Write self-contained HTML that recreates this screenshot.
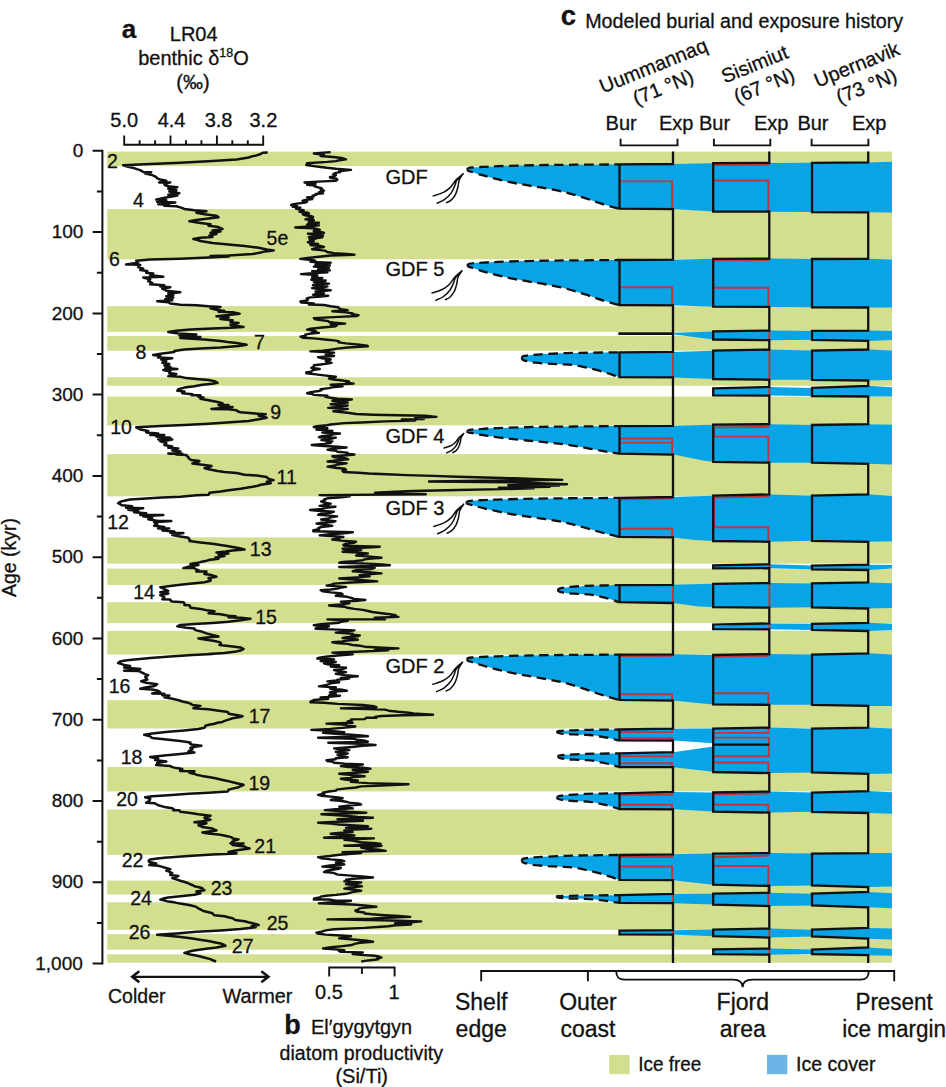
<!DOCTYPE html>
<html><head><meta charset="utf-8"><title>Figure</title>
<style>html,body{margin:0;padding:0;background:#fff}svg{display:block}text{stroke:#111;stroke-width:0.3px}</style></head>
<body>
<svg width="946" height="1087" viewBox="0 0 946 1087" font-family="Liberation Sans, sans-serif" font-size="20" fill="#111">
<rect width="946" height="1087" fill="#fff"/>
<rect x="107.2" y="151.6" width="784.8" height="14.4" fill="#D3DE8F"/>
<rect x="107.2" y="209.0" width="784.8" height="50.3" fill="#D3DE8F"/>
<rect x="107.2" y="306.2" width="784.8" height="25.7" fill="#D3DE8F"/>
<rect x="107.2" y="335.9" width="784.8" height="14.8" fill="#D3DE8F"/>
<rect x="107.2" y="377.3" width="784.8" height="8.5" fill="#D3DE8F"/>
<rect x="107.2" y="396.6" width="784.8" height="28.8" fill="#D3DE8F"/>
<rect x="107.2" y="454.1" width="784.8" height="42.2" fill="#D3DE8F"/>
<rect x="107.2" y="537.4" width="784.8" height="26.2" fill="#D3DE8F"/>
<rect x="107.2" y="568.6" width="784.8" height="16.4" fill="#D3DE8F"/>
<rect x="107.2" y="602.2" width="784.8" height="21.0" fill="#D3DE8F"/>
<rect x="107.2" y="630.8" width="784.8" height="23.8" fill="#D3DE8F"/>
<rect x="107.2" y="700.2" width="784.8" height="28.3" fill="#D3DE8F"/>
<rect x="107.2" y="767.0" width="784.8" height="24.4" fill="#D3DE8F"/>
<rect x="107.2" y="809.4" width="784.8" height="45.6" fill="#D3DE8F"/>
<rect x="107.2" y="880.6" width="784.8" height="14.0" fill="#D3DE8F"/>
<rect x="107.2" y="902.3" width="784.8" height="27.5" fill="#D3DE8F"/>
<rect x="107.2" y="934.1" width="784.8" height="15.6" fill="#D3DE8F"/>
<rect x="107.2" y="954.3" width="784.8" height="8.4" fill="#D3DE8F"/>
<g fill="#07A4E8">
<path d="M619.5,164.4 L673.0,164.0 L713.2,163.2 L769.3,162.9 L812.0,162.8 L868.2,162.4 L892.0,161.8 L892.0,212.6 L868.2,212.3 L812.0,212.1 L769.3,211.7 L713.2,211.5 L673.0,209.1 L619.5,208.6Z"/>
<path d="M467.4,169.3C467.4,168.3 468.4,167.7 471.9,167.5C473.7,167.4 478.3,167.1 482.5,166.9C486.8,166.6 488.7,166.5 497.7,166.2C506.7,165.9 523.5,165.4 536.3,165.2C549.2,164.9 561.2,164.9 575.0,164.7C588.7,164.6 611.6,164.5 618.9,164.4L620.0,164.4 L620.0,208.6 L618.9,208.6C616.3,207.9 609.2,206.1 603.4,204.3C597.7,202.5 590.7,200.0 584.4,197.9C578.0,195.9 571.5,193.8 565.1,192.2C558.7,190.6 552.4,189.6 546.0,188.4C539.6,187.2 533.2,186.3 526.8,185.2C520.4,184.1 514.1,183.1 507.7,181.7C501.3,180.3 493.2,178.1 488.5,176.9C483.8,175.7 482.4,175.3 479.5,174.4C476.6,173.5 472.6,172.1 471.2,171.7C468.4,171.4 467.4,170.4 467.4,169.3Z"/>
<path d="M619.5,260.0 L673.0,259.7 L713.2,258.8 L769.3,258.5 L812.0,259.0 L868.2,258.8 L892.0,259.4 L892.0,307.5 L868.2,307.5 L812.0,307.3 L769.3,306.9 L713.2,306.7 L673.0,305.3 L619.5,305.0Z"/>
<path d="M467.6,265.1C467.6,264.1 468.6,263.5 472.1,263.3C473.9,263.1 478.4,262.8 482.7,262.6C487.0,262.3 488.9,262.2 497.9,261.9C506.8,261.6 523.6,261.0 536.4,260.8C549.3,260.5 561.3,260.5 575.0,260.4C588.8,260.2 611.6,260.1 618.9,260.0L620.0,260.0 L620.0,305.0 L618.9,305.0C616.3,304.3 609.2,302.4 603.5,300.6C597.7,298.8 590.8,296.2 584.4,294.2C578.0,292.1 571.6,290.0 565.2,288.4C558.8,286.7 552.5,285.7 546.1,284.5C539.7,283.3 533.3,282.4 526.9,281.2C520.5,280.1 514.2,279.1 507.8,277.7C501.5,276.3 493.3,274.1 488.6,272.8C483.9,271.6 482.6,271.2 479.7,270.3C476.8,269.4 472.8,268.0 471.4,267.5C468.6,267.2 467.6,266.2 467.6,265.1Z"/>
<path d="M619.5,352.3 L673.0,351.9 L713.2,350.7 L769.3,349.6 L812.0,350.6 L868.2,349.5 L892.0,350.5 L892.0,380.0 L868.2,380.5 L812.0,379.8 L769.3,379.8 L713.2,379.0 L673.0,377.4 L619.5,377.2Z"/>
<path d="M521.9,357.8C521.9,356.8 522.9,356.0 524.8,355.8C525.9,355.7 528.9,355.3 531.6,355.1C534.3,354.8 535.6,354.6 541.3,354.3C547.0,354.0 557.8,353.4 566.0,353.1C574.3,352.9 582.0,352.8 590.8,352.7C599.6,352.5 614.2,352.4 618.9,352.3L620.0,352.3 L620.0,377.2 L618.9,377.2C617.7,376.8 615.2,375.7 611.9,374.6C608.6,373.5 603.4,371.9 599.1,370.7C594.8,369.5 590.6,368.4 586.3,367.5C582.1,366.6 577.9,365.5 573.6,365.0C569.3,364.4 565.0,364.4 560.7,364.2C556.4,364.0 552.3,363.9 548.1,363.6C543.9,363.4 539.0,363.2 535.4,362.7C531.8,362.3 527.9,361.3 526.5,361.0C522.9,360.7 521.9,358.9 521.9,357.8Z"/>
<path d="M619.5,426.1 L673.0,425.8 L713.2,424.7 L769.3,424.2 L812.0,425.0 L868.2,424.2 L892.0,424.7 L892.0,464.6 L868.2,463.8 L812.0,462.7 L769.3,462.7 L713.2,461.8 L706.0,461.0 L673.0,454.6 L619.5,453.6Z"/>
<path d="M467.2,431.6C467.2,430.6 468.2,429.8 471.8,429.6C473.5,429.5 478.1,429.1 482.4,428.9C486.7,428.6 488.6,428.4 497.5,428.1C506.5,427.8 523.3,427.2 536.2,426.9C549.1,426.7 561.1,426.6 574.9,426.5C588.7,426.3 611.6,426.2 618.9,426.1L620.0,426.1 L620.0,453.6 L618.9,453.6C616.3,453.2 609.2,452.2 603.4,451.2C597.7,450.2 590.7,448.8 584.3,447.6C577.9,446.5 571.4,445.3 565.0,444.4C558.6,443.5 552.3,442.9 545.9,442.3C539.5,441.6 533.1,441.1 526.7,440.5C520.3,439.9 513.9,439.3 507.6,438.5C501.2,437.8 493.0,436.5 488.3,435.9C483.6,435.2 482.2,434.9 479.3,434.5C476.5,434.0 472.4,433.2 471.0,432.9C468.2,432.6 467.2,432.7 467.2,431.6Z"/>
<path d="M619.5,497.9 L673.0,497.0 L713.2,495.7 L769.3,494.4 L812.0,495.7 L868.2,494.3 L892.0,496.0 L892.0,541.2 L868.2,541.8 L812.0,540.8 L769.3,541.8 L713.2,541.0 L695.0,539.9 L673.0,537.4 L619.5,536.8Z"/>
<path d="M466.5,502.5C466.5,501.5 467.5,501.0 471.1,500.8C472.9,500.7 477.4,500.4 481.7,500.2C486.1,500.0 488.0,499.8 497.0,499.6C506.0,499.3 522.9,498.8 535.8,498.6C548.8,498.4 560.9,498.3 574.7,498.2C588.5,498.1 611.5,498.0 618.9,497.9L620.0,497.9 L620.0,536.8 L618.9,536.8C616.3,536.2 609.1,534.6 603.4,533.0C597.6,531.5 590.6,529.3 584.2,527.5C577.7,525.7 571.2,523.9 564.8,522.5C558.4,521.1 552.0,520.2 545.6,519.2C539.2,518.1 532.7,517.3 526.2,516.4C519.8,515.4 513.5,514.5 507.0,513.3C500.6,512.1 492.4,510.2 487.7,509.2C483.0,508.1 481.6,507.7 478.7,507.0C475.8,506.2 471.7,505.0 470.3,504.6C467.5,504.3 466.5,503.6 466.5,502.5Z"/>
<path d="M619.5,585.1 L673.0,584.8 L713.2,583.8 L769.3,583.0 L812.0,583.4 L868.2,582.4 L892.0,583.2 L892.0,608.0 L868.2,608.5 L812.0,607.3 L769.3,607.7 L713.2,607.1 L699.0,606.6 L673.0,603.0 L619.5,602.2Z"/>
<path d="M558.0,590.1C558.0,589.1 559.0,588.5 559.8,588.3C560.5,588.2 562.4,587.8 564.1,587.6C565.8,587.4 566.6,587.2 570.2,586.9C573.8,586.6 580.5,586.1 585.7,585.9C590.9,585.6 595.7,585.6 601.2,585.5C606.8,585.3 616.0,585.2 618.9,585.1L620.0,585.1 L620.0,602.2 L618.9,602.2C618.2,601.9 616.6,601.3 614.5,600.6C612.4,599.9 609.2,598.9 606.5,598.1C603.8,597.4 601.1,596.7 598.4,596.2C595.8,595.6 593.1,594.9 590.5,594.6C587.8,594.2 585.0,594.2 582.4,594.1C579.7,594.0 577.1,593.9 574.4,593.7C571.8,593.6 568.7,593.4 566.5,593.2C564.2,592.9 561.8,592.3 560.9,592.1C559.0,591.8 558.0,591.2 558.0,590.1Z"/>
<path d="M619.5,654.6 L673.0,654.3 L713.2,655.0 L769.3,654.0 L812.0,654.6 L868.2,653.3 L892.0,654.4 L892.0,705.9 L868.2,705.9 L812.0,704.8 L769.3,704.8 L713.2,704.4 L700.0,703.2 L673.0,700.6 L619.5,699.9Z"/>
<path d="M467.2,659.2C467.2,658.2 468.2,657.7 471.8,657.5C473.5,657.4 478.1,657.1 482.4,656.9C486.7,656.7 488.6,656.5 497.5,656.3C506.5,656.0 523.3,655.5 536.2,655.3C549.1,655.1 561.1,655.0 574.9,654.9C588.7,654.8 611.6,654.7 618.9,654.6L620.0,654.6 L620.0,699.9 L618.9,699.9C616.3,699.2 609.2,697.3 603.4,695.4C597.7,693.6 590.7,691.0 584.3,688.9C577.9,686.8 571.4,684.6 565.0,682.9C558.6,681.3 552.3,680.2 545.9,679.0C539.5,677.8 533.1,676.8 526.7,675.6C520.3,674.5 513.9,673.4 507.6,672.0C501.2,670.6 493.0,668.4 488.3,667.1C483.6,665.8 482.2,665.4 479.3,664.5C476.5,663.6 472.4,662.2 471.0,661.7C468.2,661.4 467.2,660.3 467.2,659.2Z"/>
<path d="M619.5,793.3 L673.0,792.0 L713.2,792.5 L769.3,791.5 L812.0,792.5 L868.2,791.1 L892.0,792.3 L892.0,813.7 L868.2,813.0 L812.0,811.8 L769.3,812.6 L713.2,811.6 L673.0,809.3 L619.5,809.0Z"/>
<path d="M557.0,797.5C557.0,796.5 558.0,796.2 558.9,796.0C559.6,795.9 561.4,795.6 563.2,795.4C564.9,795.2 565.7,795.1 569.4,794.8C573.0,794.6 579.9,794.2 585.2,793.9C590.4,793.7 595.3,793.7 600.9,793.6C606.6,793.5 615.9,793.3 618.9,793.3L620.0,793.3 L620.0,809.0 L618.9,809.0C618.2,808.7 616.5,808.1 614.4,807.5C612.3,806.8 609.0,805.8 606.3,805.1C603.5,804.4 600.8,803.8 598.1,803.2C595.4,802.7 592.7,802.1 590.0,801.8C587.3,801.4 584.5,801.4 581.8,801.3C579.0,801.2 576.4,801.1 573.7,801.0C571.0,800.8 567.9,800.7 565.6,800.4C563.3,800.1 560.9,799.5 559.9,799.4C558.0,799.1 557.0,798.6 557.0,797.5Z"/>
<path d="M619.5,855.0 L673.0,854.3 L713.2,853.6 L769.3,853.1 L812.0,853.6 L868.2,853.1 L892.0,853.1 L892.0,886.4 L868.2,887.1 L812.0,885.4 L769.3,885.9 L713.2,884.7 L673.0,880.2 L619.5,879.8Z"/>
<path d="M521.9,860.2C521.9,859.2 522.9,858.5 524.8,858.3C525.9,858.2 528.9,857.8 531.6,857.6C534.3,857.4 535.6,857.2 541.3,856.9C547.0,856.6 557.8,856.1 566.0,855.8C574.3,855.5 582.0,855.5 590.8,855.4C599.6,855.2 614.2,855.1 618.9,855.0L620.0,855.0 L620.0,879.8 L618.9,879.8C617.7,879.4 615.2,878.3 611.9,877.2C608.6,876.1 603.4,874.4 599.1,873.2C594.8,872.0 590.6,871.0 586.3,870.0C582.1,869.0 577.9,868.0 573.6,867.5C569.3,866.9 565.0,866.9 560.7,866.7C556.4,866.4 552.3,866.3 548.1,866.1C543.9,865.8 539.0,865.6 535.4,865.2C531.8,864.7 527.9,863.7 526.5,863.4C522.9,863.1 521.9,861.3 521.9,860.2Z"/>
<path d="M619.5,895.2 L673.0,893.9 L713.2,893.7 L769.3,892.7 L812.0,893.7 L868.2,892.0 L892.0,893.2 L892.0,908.3 L868.2,907.3 L812.0,905.4 L769.3,906.1 L713.2,904.6 L673.0,903.2 L619.5,902.9Z"/>
<path d="M556.7,896.8C556.7,895.8 557.7,896.4 558.6,896.2C559.3,896.2 561.2,896.1 562.9,896.0C564.7,895.9 565.5,895.9 569.1,895.8C572.8,895.7 579.7,895.5 585.0,895.4C590.3,895.4 595.2,895.4 600.9,895.3C606.5,895.3 615.9,895.2 618.9,895.2L620.0,895.2 L620.0,902.9 L618.9,902.9C618.2,902.8 616.5,902.4 614.4,902.1C612.3,901.8 608.9,901.2 606.2,900.8C603.5,900.5 600.7,900.1 598.0,899.8C595.3,899.6 592.6,899.2 589.9,899.1C587.1,898.9 584.3,898.9 581.6,898.8C578.9,898.7 576.2,898.7 573.5,898.6C570.8,898.6 567.7,898.5 565.3,898.3C563.0,898.2 560.6,897.9 559.6,897.8C557.7,897.5 556.7,897.9 556.7,896.8Z"/>
<path d="M619.5,930.6 L673.0,930.2 L713.2,929.6 L769.3,928.5 L812.0,929.7 L868.2,928.0 L892.0,928.5 L892.0,939.4 L868.2,938.7 L812.0,936.5 L769.3,937.5 L713.2,936.2 L673.0,934.6 L619.5,934.4Z"/>
<path d="M673.0,332.8 L713.2,331.4 L769.3,330.5 L812.0,330.9 L868.2,330.6 L892.0,331.0 L892.0,340.0 L868.2,340.9 L812.0,339.8 L769.3,340.2 L713.2,339.5 L673.0,334.2Z"/>
<path d="M713.2,388.4 L769.3,386.9 L812.0,387.9 L868.2,385.8 L892.0,387.2 L892.0,396.5 L868.2,396.5 L812.0,396.0 L769.3,395.6 L713.2,395.3Z"/>
<path d="M713.2,565.4 L769.3,564.2 L812.0,565.6 L868.2,564.7 L892.0,565.0 L892.0,568.5 L868.2,570.0 L812.0,569.3 L769.3,568.2 L713.2,568.4Z"/>
<path d="M713.2,626.0 L769.3,623.4 L812.0,623.8 L868.2,622.8 L892.0,623.8 L892.0,630.2 L868.2,631.0 L812.0,629.9 L769.3,629.3 L713.2,629.1Z"/>
<path d="M713.2,949.4 L769.3,948.6 L812.0,949.6 L868.2,947.4 L892.0,949.0 L892.0,955.7 L868.2,955.2 L812.0,954.0 L769.3,954.7 L713.2,954.2Z"/>
<path d="M619.5,729.5 L673.0,728.7 L713.2,728.4 L713.2,743.3 L673.0,740.6 L619.5,740.4Z"/>
<path d="M557.2,731.9C557.2,730.9 558.2,731.2 559.1,731.0C559.8,731.0 561.6,730.8 563.4,730.7C565.1,730.6 565.9,730.5 569.5,730.4C573.2,730.2 580.0,730.0 585.3,729.9C590.5,729.8 595.4,729.7 601.0,729.7C606.6,729.6 615.9,729.5 618.9,729.5L620.0,729.5 L620.0,740.4 L618.9,740.4C618.2,740.2 616.6,739.8 614.5,739.3C612.4,738.8 609.0,738.1 606.3,737.5C603.6,737.0 600.9,736.6 598.2,736.1C595.5,735.7 592.8,735.3 590.1,735.0C587.4,734.8 584.6,734.8 581.9,734.7C579.2,734.6 576.5,734.6 573.9,734.4C571.2,734.3 568.1,734.2 565.8,734.1C563.5,733.9 561.0,733.4 560.1,733.3C558.2,733.0 557.2,733.0 557.2,731.9Z"/>
<path d="M619.5,753.4 L673.0,752.2 L713.2,746.5 L713.2,771.8 L673.0,767.2 L619.5,767.0Z"/>
<path d="M558.1,756.6C558.1,755.6 559.1,755.6 559.9,755.4C560.6,755.4 562.5,755.1 564.2,755.0C565.9,754.9 566.7,754.8 570.3,754.6C573.9,754.4 580.6,754.1 585.8,753.9C590.9,753.7 595.7,753.7 601.3,753.6C606.8,753.5 616.0,753.4 618.9,753.4L620.0,753.4 L620.0,767.0 L618.9,767.0C618.2,766.8 616.6,766.2 614.5,765.6C612.5,765.0 609.2,764.1 606.5,763.5C603.8,762.9 601.1,762.3 598.5,761.8C595.8,761.3 593.2,760.7 590.5,760.4C587.8,760.2 585.1,760.2 582.4,760.0C579.8,759.9 577.2,759.9 574.5,759.7C571.9,759.6 568.8,759.5 566.6,759.2C564.3,759.0 561.9,758.5 561.0,758.3C559.1,758.0 558.1,757.7 558.1,756.6Z"/>
<path d="M713.2,728.7 L769.3,727.6 L812.0,728.7 L868.2,727.6 L892.0,728.5 L892.0,773.5 L868.2,773.9 L812.0,772.5 L769.3,773.1 L713.2,772.0Z"/>
</g>
<g fill="none" stroke="#111" stroke-width="2.3" stroke-dasharray="9.5 5.5" stroke-dashoffset="2.5">
<path d="M467.4,169.3C467.4,168.3 468.4,167.7 471.9,167.5C473.7,167.4 478.3,167.1 482.5,166.9C486.8,166.6 488.7,166.5 497.7,166.2C506.7,165.9 523.5,165.4 536.3,165.2C549.2,164.9 561.2,164.9 575.0,164.7C588.7,164.6 611.6,164.5 618.9,164.4"/>
<path d="M467.4,169.3C467.4,170.4 468.4,171.4 471.2,171.7C472.6,172.1 476.6,173.5 479.5,174.4C482.4,175.3 483.8,175.7 488.5,176.9C493.2,178.1 501.3,180.3 507.7,181.7C514.1,183.1 520.4,184.1 526.8,185.2C533.2,186.3 539.6,187.2 546.0,188.4C552.4,189.6 558.7,190.6 565.1,192.2C571.5,193.8 578.0,195.9 584.4,197.9C590.7,200.0 597.7,202.5 603.4,204.3C609.2,206.1 616.3,207.9 618.9,208.6"/>
<path d="M467.6,265.1C467.6,264.1 468.6,263.5 472.1,263.3C473.9,263.1 478.4,262.8 482.7,262.6C487.0,262.3 488.9,262.2 497.9,261.9C506.8,261.6 523.6,261.0 536.4,260.8C549.3,260.5 561.3,260.5 575.0,260.4C588.8,260.2 611.6,260.1 618.9,260.0"/>
<path d="M467.6,265.1C467.6,266.2 468.6,267.2 471.4,267.5C472.8,268.0 476.8,269.4 479.7,270.3C482.6,271.2 483.9,271.6 488.6,272.8C493.3,274.1 501.5,276.3 507.8,277.7C514.2,279.1 520.5,280.1 526.9,281.2C533.3,282.4 539.7,283.3 546.1,284.5C552.5,285.7 558.8,286.7 565.2,288.4C571.6,290.0 578.0,292.1 584.4,294.2C590.8,296.2 597.7,298.8 603.5,300.6C609.2,302.4 616.3,304.3 618.9,305.0"/>
<path d="M521.9,357.8C521.9,356.8 522.9,356.0 524.8,355.8C525.9,355.7 528.9,355.3 531.6,355.1C534.3,354.8 535.6,354.6 541.3,354.3C547.0,354.0 557.8,353.4 566.0,353.1C574.3,352.9 582.0,352.8 590.8,352.7C599.6,352.5 614.2,352.4 618.9,352.3"/>
<path d="M521.9,357.8C521.9,358.9 522.9,360.7 526.5,361.0C527.9,361.3 531.8,362.3 535.4,362.7C539.0,363.2 543.9,363.4 548.1,363.6C552.3,363.9 556.4,364.0 560.7,364.2C565.0,364.4 569.3,364.4 573.6,365.0C577.9,365.5 582.1,366.6 586.3,367.5C590.6,368.4 594.8,369.5 599.1,370.7C603.4,371.9 608.6,373.5 611.9,374.6C615.2,375.7 617.7,376.8 618.9,377.2"/>
<path d="M467.2,431.6C467.2,430.6 468.2,429.8 471.8,429.6C473.5,429.5 478.1,429.1 482.4,428.9C486.7,428.6 488.6,428.4 497.5,428.1C506.5,427.8 523.3,427.2 536.2,426.9C549.1,426.7 561.1,426.6 574.9,426.5C588.7,426.3 611.6,426.2 618.9,426.1"/>
<path d="M467.2,431.6C467.2,432.7 468.2,432.6 471.0,432.9C472.4,433.2 476.5,434.0 479.3,434.5C482.2,434.9 483.6,435.2 488.3,435.9C493.0,436.5 501.2,437.8 507.6,438.5C513.9,439.3 520.3,439.9 526.7,440.5C533.1,441.1 539.5,441.6 545.9,442.3C552.3,442.9 558.6,443.5 565.0,444.4C571.4,445.3 577.9,446.5 584.3,447.6C590.7,448.8 597.7,450.2 603.4,451.2C609.2,452.2 616.3,453.2 618.9,453.6"/>
<path d="M466.5,502.5C466.5,501.5 467.5,501.0 471.1,500.8C472.9,500.7 477.4,500.4 481.7,500.2C486.1,500.0 488.0,499.8 497.0,499.6C506.0,499.3 522.9,498.8 535.8,498.6C548.8,498.4 560.9,498.3 574.7,498.2C588.5,498.1 611.5,498.0 618.9,497.9"/>
<path d="M466.5,502.5C466.5,503.6 467.5,504.3 470.3,504.6C471.7,505.0 475.8,506.2 478.7,507.0C481.6,507.7 483.0,508.1 487.7,509.2C492.4,510.2 500.6,512.1 507.0,513.3C513.5,514.5 519.8,515.4 526.2,516.4C532.7,517.3 539.2,518.1 545.6,519.2C552.0,520.2 558.4,521.1 564.8,522.5C571.2,523.9 577.7,525.7 584.2,527.5C590.6,529.3 597.6,531.5 603.4,533.0C609.1,534.6 616.3,536.2 618.9,536.8"/>
<path d="M558.0,590.1C558.0,589.1 559.0,588.5 559.8,588.3C560.5,588.2 562.4,587.8 564.1,587.6C565.8,587.4 566.6,587.2 570.2,586.9C573.8,586.6 580.5,586.1 585.7,585.9C590.9,585.6 595.7,585.6 601.2,585.5C606.8,585.3 616.0,585.2 618.9,585.1"/>
<path d="M558.0,590.1C558.0,591.2 559.0,591.8 560.9,592.1C561.8,592.3 564.2,592.9 566.5,593.2C568.7,593.4 571.8,593.6 574.4,593.7C577.1,593.9 579.7,594.0 582.4,594.1C585.0,594.2 587.8,594.2 590.5,594.6C593.1,594.9 595.8,595.6 598.4,596.2C601.1,596.7 603.8,597.4 606.5,598.1C609.2,598.9 612.4,599.9 614.5,600.6C616.6,601.3 618.2,601.9 618.9,602.2"/>
<path d="M467.2,659.2C467.2,658.2 468.2,657.7 471.8,657.5C473.5,657.4 478.1,657.1 482.4,656.9C486.7,656.7 488.6,656.5 497.5,656.3C506.5,656.0 523.3,655.5 536.2,655.3C549.1,655.1 561.1,655.0 574.9,654.9C588.7,654.8 611.6,654.7 618.9,654.6"/>
<path d="M467.2,659.2C467.2,660.3 468.2,661.4 471.0,661.7C472.4,662.2 476.5,663.6 479.3,664.5C482.2,665.4 483.6,665.8 488.3,667.1C493.0,668.4 501.2,670.6 507.6,672.0C513.9,673.4 520.3,674.5 526.7,675.6C533.1,676.8 539.5,677.8 545.9,679.0C552.3,680.2 558.6,681.3 565.0,682.9C571.4,684.6 577.9,686.8 584.3,688.9C590.7,691.0 597.7,693.6 603.4,695.4C609.2,697.3 616.3,699.2 618.9,699.9"/>
<path d="M557.0,797.5C557.0,796.5 558.0,796.2 558.9,796.0C559.6,795.9 561.4,795.6 563.2,795.4C564.9,795.2 565.7,795.1 569.4,794.8C573.0,794.6 579.9,794.2 585.2,793.9C590.4,793.7 595.3,793.7 600.9,793.6C606.6,793.5 615.9,793.3 618.9,793.3"/>
<path d="M557.0,797.5C557.0,798.6 558.0,799.1 559.9,799.4C560.9,799.5 563.3,800.1 565.6,800.4C567.9,800.7 571.0,800.8 573.7,801.0C576.4,801.1 579.0,801.2 581.8,801.3C584.5,801.4 587.3,801.4 590.0,801.8C592.7,802.1 595.4,802.7 598.1,803.2C600.8,803.8 603.5,804.4 606.3,805.1C609.0,805.8 612.3,806.8 614.4,807.5C616.5,808.1 618.2,808.7 618.9,809.0"/>
<path d="M521.9,860.2C521.9,859.2 522.9,858.5 524.8,858.3C525.9,858.2 528.9,857.8 531.6,857.6C534.3,857.4 535.6,857.2 541.3,856.9C547.0,856.6 557.8,856.1 566.0,855.8C574.3,855.5 582.0,855.5 590.8,855.4C599.6,855.2 614.2,855.1 618.9,855.0"/>
<path d="M521.9,860.2C521.9,861.3 522.9,863.1 526.5,863.4C527.9,863.7 531.8,864.7 535.4,865.2C539.0,865.6 543.9,865.8 548.1,866.1C552.3,866.3 556.4,866.4 560.7,866.7C565.0,866.9 569.3,866.9 573.6,867.5C577.9,868.0 582.1,869.0 586.3,870.0C590.6,871.0 594.8,872.0 599.1,873.2C603.4,874.4 608.6,876.1 611.9,877.2C615.2,878.3 617.7,879.4 618.9,879.8"/>
<path d="M556.7,896.8C556.7,895.8 557.7,896.4 558.6,896.2C559.3,896.2 561.2,896.1 562.9,896.0C564.7,895.9 565.5,895.9 569.1,895.8C572.8,895.7 579.7,895.5 585.0,895.4C590.3,895.4 595.2,895.4 600.9,895.3C606.5,895.3 615.9,895.2 618.9,895.2"/>
<path d="M556.7,896.8C556.7,897.9 557.7,897.5 559.6,897.8C560.6,897.9 563.0,898.2 565.3,898.3C567.7,898.5 570.8,898.6 573.5,898.6C576.2,898.7 578.9,898.7 581.6,898.8C584.3,898.9 587.1,898.9 589.9,899.1C592.6,899.2 595.3,899.6 598.0,899.8C600.7,900.1 603.5,900.5 606.2,900.8C608.9,901.2 612.3,901.8 614.4,902.1C616.5,902.4 618.2,902.8 618.9,902.9"/>
<path d="M557.2,731.9C557.2,730.9 558.2,731.2 559.1,731.0C559.8,731.0 561.6,730.8 563.4,730.7C565.1,730.6 565.9,730.5 569.5,730.4C573.2,730.2 580.0,730.0 585.3,729.9C590.5,729.8 595.4,729.7 601.0,729.7C606.6,729.6 615.9,729.5 618.9,729.5"/>
<path d="M557.2,731.9C557.2,733.0 558.2,733.0 560.1,733.3C561.0,733.4 563.5,733.9 565.8,734.1C568.1,734.2 571.2,734.3 573.9,734.4C576.5,734.6 579.2,734.6 581.9,734.7C584.6,734.8 587.4,734.8 590.1,735.0C592.8,735.3 595.5,735.7 598.2,736.1C600.9,736.6 603.6,737.0 606.3,737.5C609.0,738.1 612.4,738.8 614.5,739.3C616.6,739.8 618.2,740.2 618.9,740.4"/>
<path d="M558.1,756.6C558.1,755.6 559.1,755.6 559.9,755.4C560.6,755.4 562.5,755.1 564.2,755.0C565.9,754.9 566.7,754.8 570.3,754.6C573.9,754.4 580.6,754.1 585.8,753.9C590.9,753.7 595.7,753.7 601.3,753.6C606.8,753.5 616.0,753.4 618.9,753.4"/>
<path d="M558.1,756.6C558.1,757.7 559.1,758.0 561.0,758.3C561.9,758.5 564.3,759.0 566.6,759.2C568.8,759.5 571.9,759.6 574.5,759.7C577.2,759.9 579.8,759.9 582.4,760.0C585.1,760.2 587.8,760.2 590.5,760.4C593.2,760.7 595.8,761.3 598.5,761.8C601.1,762.3 603.8,762.9 606.5,763.5C609.2,764.1 612.5,765.0 614.5,765.6C616.6,766.2 618.2,766.8 618.9,767.0"/>
</g>
<g fill="none" stroke="#C2343E" stroke-width="1.9">
<path d="M619.5,181.4 H672.1 V209"/>
<path d="M619.5,287.3 H672.1 V305.3"/>
<path d="M673.0,352 V377.3"/>
<path d="M619.5,438.5 H672.1 V454.5"/>
<path d="M619.5,442.6 H672.1"/>
<path d="M619.5,499.3 L673.0,498.4"/>
<path d="M619.5,528.7 H672.1 V537.4"/>
<path d="M673.0,585 V603"/>
<path d="M619.5,656.0 L673.0,655.7"/>
<path d="M619.5,694.2 H672.1 V700.5"/>
<path d="M672.1,728.7 V732.1 H619.5"/>
<path d="M619.5,738.1 H672.1 V740.5"/>
<path d="M672.1,752.2 V756.2 H619.5"/>
<path d="M619.5,763.2 H672.1 V767"/>
<path d="M672.1,792 V794.9 H619.5"/>
<path d="M619.5,804.8 H672.1 V809.3"/>
<path d="M672.1,854.3 V857.0 H619.5"/>
<path d="M619.5,866.5 H672.1 V880.2"/>
<path d="M673.0,893.9 V903.2"/>
<path d="M673.0,930 V934.6"/>
<path d="M713.2,165.0 L769.3,164.7"/>
<path d="M713.2,180.5 H768.4 V211.7"/>
<path d="M713.2,260.4 L769.3,260.1"/>
<path d="M713.2,287.7 H768.4 V306.9"/>
<path d="M769.3,330.5 V340.2"/>
<path d="M769.3,349.6 V379.8"/>
<path d="M769.3,386.9 V395.6"/>
<path d="M769.3,427.0 L714.1,427.4 V436.6 H768.4 V462.7"/>
<path d="M769.3,496.4 L714.1,497.6 V527.3 H768.4 V541.8"/>
<path d="M769.3,564 V568.2"/>
<path d="M769.3,583 V607.7"/>
<path d="M769.3,623.2 V629.3"/>
<path d="M713.2,656.8 L769.3,655.8"/>
<path d="M713.2,693.2 H768.4 V704.8"/>
<path d="M768.4,727.6 V732.9 H713.2"/>
<path d="M713.2,737.6 H768.8 V756.2 H713.2"/>
<path d="M713.2,762.5 H768.4 V773"/>
<path d="M713.2,794.4 L769.3,793.4"/>
<path d="M713.2,804.8 H768.4 V812.6"/>
<path d="M713.2,857.2 L769.3,855.6"/>
<path d="M713.2,866.0 H768.4 V906.1"/>
<path d="M769.3,928.5 V937.5"/>
<path d="M769.3,948.6 V954.7"/>
</g>
<g fill="none" stroke="#111" stroke-width="2.3" stroke-linejoin="miter">
<path d="M673.0,151.5 L673.0,164.0 L619.5,164.4 L619.5,208.6 L673.0,209.1 L673.0,259.7 L619.5,260.0 L619.5,305.0 L673.0,305.3 L673.0,333.3 L619.5,333.3 L619.5,333.8 L673.0,333.8 L673.0,351.9 L619.5,352.3 L619.5,377.2 L673.0,377.4 L673.0,425.8 L619.5,426.1 L619.5,453.6 L673.0,454.6 L673.0,497.0 L619.5,497.9 L619.5,536.8 L673.0,537.4 L673.0,584.8 L619.5,585.1 L619.5,602.2 L673.0,603.0 L673.0,654.3 L619.5,654.6 L619.5,699.9 L673.0,700.6 L673.0,728.7 L619.5,729.5 L619.5,740.4 L673.0,740.6 L673.0,752.2 L619.5,753.4 L619.5,767.0 L673.0,767.2 L673.0,792.0 L619.5,793.3 L619.5,809.0 L673.0,809.3 L673.0,854.3 L619.5,855.0 L619.5,879.8 L673.0,880.2 L673.0,893.9 L619.5,895.2 L619.5,902.9 L673.0,903.2 L673.0,930.2 L619.5,930.6 L619.5,934.4 L673.0,934.6 L673.0,963"/>
<path d="M769.3,151.5 L769.3,162.9 L713.2,163.2 L713.2,211.5 L769.3,211.7 L769.3,258.5 L713.2,258.8 L713.2,306.7 L769.3,306.9 L769.3,330.5 L713.2,331.4 L713.2,339.5 L769.3,340.2 L769.3,349.6 L713.2,350.7 L713.2,379.0 L769.3,379.8 L769.3,386.9 L713.2,388.4 L713.2,395.3 L769.3,395.6 L769.3,424.2 L713.2,424.7 L713.2,461.8 L769.3,462.7 L769.3,494.4 L713.2,495.7 L713.2,541.0 L769.3,541.8 L769.3,564.2 L713.2,565.4 L713.2,568.4 L769.3,568.2 L769.3,583.0 L713.2,583.8 L713.2,607.1 L769.3,607.7 L769.3,623.4 L713.2,624.6 L713.2,629.1 L769.3,629.3 L769.3,654.0 L713.2,655.0 L713.2,704.4 L769.3,704.8 L769.3,727.6 L713.2,728.7 L713.2,744.6 L769.3,744.6 L713.2,744.6 L713.2,772.0 L769.3,773.1 L769.3,791.5 L713.2,792.5 L713.2,811.6 L769.3,812.6 L769.3,853.1 L713.2,853.6 L713.2,884.7 L769.3,885.9 L769.3,892.7 L713.2,893.7 L713.2,904.6 L769.3,906.1 L769.3,928.5 L713.2,929.6 L713.2,936.2 L769.3,937.5 L769.3,948.6 L713.2,949.4 L713.2,954.2 L769.3,954.7 L769.3,963"/>
<path d="M868.2,151.5 L868.2,162.4 L812.0,162.8 L812.0,212.1 L868.2,212.3 L868.2,258.8 L812.0,259.0 L812.0,307.3 L868.2,307.5 L868.2,330.6 L812.0,330.9 L812.0,339.8 L868.2,340.9 L868.2,349.5 L812.0,350.6 L812.0,379.8 L868.2,380.5 L868.2,385.8 L812.0,387.9 L812.0,396.0 L868.2,396.5 L868.2,424.2 L812.0,425.0 L812.0,462.7 L868.2,463.8 L868.2,494.3 L812.0,495.7 L812.0,540.8 L868.2,541.8 L868.2,564.7 L812.0,565.6 L812.0,569.3 L868.2,570.0 L868.2,582.4 L812.0,583.4 L812.0,607.3 L868.2,608.5 L868.2,622.8 L812.0,623.8 L812.0,629.9 L868.2,631.0 L868.2,653.3 L812.0,654.6 L812.0,704.8 L868.2,705.9 L868.2,727.6 L812.0,728.7 L812.0,772.5 L868.2,773.9 L868.2,791.1 L812.0,792.5 L812.0,811.8 L868.2,813.0 L868.2,853.1 L812.0,853.6 L812.0,885.4 L868.2,887.1 L868.2,892.0 L812.0,893.7 L812.0,905.4 L868.2,907.3 L868.2,928.0 L812.0,929.7 L812.0,936.5 L868.2,938.7 L868.2,947.4 L812.0,949.6 L812.0,954.0 L868.2,955.2 L868.2,963"/>
<path d="M620.6,138.8 V145.4 H677.5 V138.8" stroke-width="1.9"/>
<path d="M713.9,138.8 V145.4 H770.3 V138.8" stroke-width="1.9"/>
<path d="M811.6,138.8 V145.4 H868.4 V138.8" stroke-width="1.9"/>
</g>
<polyline points="267.7,152.6 262.7,152.7 260.7,154.0 256.7,155.4 252.0,156.4 248.6,157.5 242.7,158.5 236.6,159.5 212.5,161.1 180.3,162.7 150.2,164.1 123.1,165.3 128.1,166.7 134.1,168.1 136.8,169.1 140.2,170.1 141.9,171.1 143.2,172.1 151.2,172.2 145.2,173.5 152.2,175.1 154.5,176.1 156.2,177.1 157.2,178.3 160.3,179.5 166.3,180.8 159.2,182.4 170.3,182.4 164.3,184.2 165.1,185.2 168.3,186.2 177.3,187.2 168.3,188.8 176.3,190.2 169.3,191.6 179.3,193.2 168.3,194.8 177.3,195.6 170.3,196.8 162.3,198.2 156.2,199.6 166.3,200.2 157.2,201.8 175.3,202.6 158.2,204.2 169.3,204.7 164.3,205.7 176.3,206.3 181.1,207.6 184.4,208.9 194.4,210.3 206.4,211.3 196.4,212.7 204.4,214.3 216.5,215.7 218.5,217.3 204.4,218.9 196.3,220.1 189.4,221.3 200.4,222.9 210.5,224.3 208.5,225.7 218.5,226.9 219.9,227.9 222.5,229.0 212.5,230.4 220.5,231.4 210.5,232.8 216.5,234.0 209.5,235.4 212.5,237.0 200.4,237.8 193.4,239.0 198.1,240.0 200.4,241.0 206.4,242.0 212.5,243.0 228.5,244.4 244.6,246.0 252.4,246.9 258.7,247.8 266.7,249.4 273.7,250.4 264.7,251.4 260.7,252.6 252.6,254.0 228.5,255.4 210.5,256.0 228.5,256.6 208.5,257.5 180.3,258.7 150.2,259.5 136.2,260.7 137.1,261.7 138.2,262.7 132.5,263.6 126.1,264.5 133.1,264.5 140.2,265.1 138.3,266.1 138.2,267.1 143.2,268.7 140.2,270.1 147.2,271.1 146.2,272.7 153.2,273.5 150.2,275.1 163.3,276.7 143.2,277.5 147.0,278.5 150.2,279.5 148.2,281.2 152.2,282.8 150.2,284.2 164.3,285.2 160.3,286.6 170.3,287.2 162.3,288.8 165.2,289.8 166.3,290.8 180.3,292.2 168.3,293.6 173.3,295.2 166.3,296.2 173.3,297.6 165.3,299.2 172.3,300.2 157.2,301.2 168.3,302.2 170.3,303.6 180.3,304.7 196.4,305.3 208.5,306.3 220.5,306.9 210.5,308.3 216.5,309.7 224.5,310.9 218.5,311.7 232.6,312.3 239.6,313.7 228.5,314.9 216.5,316.3 228.5,317.3 220.5,318.9 232.6,320.3 231.6,321.3 230.5,322.3 238.6,322.9 235.1,323.9 230.5,324.9 237.5,325.9 243.6,326.9 230.5,327.7 212.5,328.4 190.4,329.4 176.3,330.8 168.3,332.0 178.3,333.4 196.4,334.4 179.3,335.4 188.4,336.4 200.4,337.0 180.3,338.0 204.4,339.4 220.5,341.0 227.5,342.0 236.6,343.0 242.2,343.9 246.6,344.8 238.6,346.0 220.5,347.4 200.4,348.4 184.4,349.4 174.3,351.0 174.3,352.0 162.3,353.4 153.2,355.0 160.3,356.0 158.2,357.5 172.3,358.3 161.3,359.5 166.3,361.1 162.3,362.7 169.3,364.1 164.3,365.5 170.3,366.7 165.3,368.1 177.3,369.1 163.3,370.1 170.3,371.5 169.3,373.1 176.3,374.1 172.5,375.1 168.3,376.1 180.3,376.7 186.4,378.1 196.4,379.1 208.5,380.1 214.5,381.2 217.5,382.8 212.5,383.8 202.4,384.8 194.4,386.2 184.4,387.6 178.3,389.2 177.3,390.8 184.4,391.6 182.3,393.2 192.4,394.2 191.4,395.2 200.4,395.3 198.4,396.8 203.4,397.6 200.4,398.8 208.5,400.2 216.5,401.8 222.5,403.2 218.5,404.9 228.5,404.9 220.5,406.3 232.6,406.9 221.5,407.9 211.5,408.9 228.5,409.3 236.6,410.3 237.5,411.3 240.6,412.3 252.6,413.3 265.7,414.3 258.7,415.7 263.6,416.7 266.7,417.7 258.7,419.3 248.6,420.9 230.5,422.3 208.5,423.7 184.4,424.9 160.3,425.9 136.2,427.3 138.1,428.4 140.2,429.4 148.2,431.0 146.2,432.4 158.2,433.4 150.2,435.0 164.3,435.0 156.2,436.4 170.3,437.8 158.2,439.4 172.3,439.4 166.8,440.4 160.3,441.4 166.3,443.0 166.2,444.0 164.3,445.0 172.3,446.4 168.3,447.8 178.3,448.4 175.8,449.4 172.3,450.4 180.3,451.4 179.3,452.5 176.3,453.5 168.3,453.5 178.3,453.6 170.3,453.6 176.3,453.7 169.3,453.7 182.3,453.8 176.3,454.6 186.4,455.0 186.8,456.0 188.4,457.1 188.4,458.1 189.7,459.1 191.4,460.1 199.4,461.1 196.9,462.3 192.4,463.5 204.4,465.1 211.5,466.1 208.9,467.1 204.4,468.1 207.5,469.1 212.5,470.1 217.6,471.1 224.5,472.1 236.6,473.1 244.6,474.7 256.7,475.5 266.7,477.1 267.5,478.1 269.7,479.1 273.7,480.1 266.7,481.6 270.7,483.2 260.7,484.8 257.8,485.8 252.6,486.8 246.5,487.8 240.6,488.8 228.5,490.2 220.5,491.6 209.5,492.8 209.3,493.8 208.5,494.8 196.4,495.2 180.3,496.8 162.3,497.6 146.2,498.6 130.1,499.6 122.1,501.2 119.6,502.2 118.1,503.2 120.1,504.2 122.1,505.3 132.1,506.3 126.1,507.7 143.2,508.3 128.1,509.7 138.2,510.9 134.1,512.3 146.2,513.3 140.2,514.9 163.3,514.9 143.2,516.3 152.2,517.7 148.2,519.3 158.2,520.9 171.3,520.9 154.2,522.3 155.5,523.3 157.2,524.3 154.2,525.7 164.3,526.9 158.2,528.4 169.3,528.4 165.4,529.4 162.3,530.4 174.3,531.4 170.3,532.8 183.4,533.0 178.0,534.0 172.3,535.0 180.3,536.4 188.4,537.8 188.9,538.9 190.0,539.9 189.4,541.0 200.4,542.4 212.5,543.8 220.5,545.0 227.0,546.0 232.6,547.0 239.6,548.2 244.6,549.4 232.6,550.6 225.4,551.6 216.5,552.6 228.5,553.4 218.5,554.6 224.5,556.0 215.5,557.5 218.5,558.7 208.5,560.1 205.6,561.1 200.4,562.1 195.8,563.1 190.4,564.1 198.4,565.1 188.4,566.7 183.4,568.1 194.4,568.1 195.6,569.1 198.4,570.1 196.4,571.5 206.4,571.5 206.3,572.8 204.4,574.1 211.5,575.1 216.5,576.7 208.5,578.1 210.6,579.4 210.5,580.8 204.4,582.2 192.4,583.6 180.3,584.8 168.3,586.2 160.3,587.2 163.2,588.2 164.3,589.2 168.3,590.8 160.3,592.2 168.3,593.6 160.3,595.2 162.4,596.2 164.3,597.2 163.8,598.2 162.3,599.2 170.3,599.6 170.6,600.6 172.3,601.6 183.4,602.2 184.6,603.5 184.4,604.9 189.4,605.3 190.1,606.5 190.4,607.7 200.4,608.9 206.4,610.3 214.5,611.3 211.0,612.3 208.5,613.3 220.5,614.3 228.5,615.7 235.6,616.3 228.5,617.3 240.6,617.7 250.6,618.7 240.6,620.3 228.5,621.7 212.5,622.9 194.4,623.9 180.3,624.9 177.3,626.3 186.4,627.7 194.4,628.4 194.4,629.4 196.4,630.4 202.4,631.8 206.4,633.4 212.5,635.0 218.5,636.4 206.4,637.4 198.4,638.4 206.4,639.8 214.5,641.0 220.5,642.4 220.9,643.7 219.5,645.0 228.5,646.0 240.6,647.4 243.6,649.0 241.3,650.2 236.6,651.4 224.5,653.1 208.5,654.1 212.5,654.1 192.4,655.0 170.3,656.6 150.2,658.1 132.1,659.7 125.1,660.6 120.1,661.5 118.1,663.1 121.8,664.1 124.1,665.1 130.1,666.1 124.1,667.5 140.2,669.1 124.1,670.7 139.2,671.1 141.0,672.1 143.2,673.1 144.9,674.1 148.2,675.1 146.2,676.1 145.2,677.1 146.8,678.3 147.2,679.5 141.2,681.2 146.2,682.8 157.2,684.2 156.1,685.2 153.2,686.2 145.6,687.5 140.2,688.8 152.2,689.6 158.2,690.8 160.3,692.2 152.2,693.6 164.3,693.7 162.3,695.2 169.3,695.6 164.3,697.2 172.3,698.8 176.6,699.8 180.3,700.8 183.3,701.8 188.4,702.8 190.9,703.8 192.4,704.9 200.4,705.9 196.5,707.1 193.4,708.3 208.5,709.3 220.5,710.9 226.5,711.7 228.5,712.7 228.5,713.7 236.6,714.9 242.6,716.3 238.7,717.3 232.6,718.3 228.6,719.6 224.5,720.9 222.4,721.9 217.4,722.8 214.5,723.7 208.9,724.7 205.4,725.7 205.2,726.7 204.4,727.7 198.4,729.0 184.4,730.4 168.3,731.8 152.2,733.4 144.2,734.8 150.2,736.4 152.2,738.0 166.3,739.4 180.3,741.0 190.4,742.4 189.8,743.4 191.4,744.4 201.4,745.8 195.2,746.8 190.4,747.8 192.4,749.4 190.2,750.4 188.4,751.4 188.4,751.5 194.4,752.6 180.3,754.0 164.3,755.4 150.2,757.1 158.2,758.7 155.2,760.1 166.3,761.5 157.2,763.1 157.0,764.1 156.2,765.1 170.3,766.1 172.5,767.1 176.3,768.1 182.3,769.1 180.2,770.1 180.3,771.1 194.4,771.2 189.4,772.7 193.8,773.7 196.4,774.7 202.0,775.9 208.5,777.1 215.6,778.3 220.5,779.5 227.5,780.9 232.6,782.2 237.8,783.5 243.6,784.8 241.0,786.0 238.6,787.2 233.6,788.4 228.5,789.6 228.4,790.6 227.5,791.6 208.5,792.8 188.4,793.8 168.3,795.2 152.2,796.2 145.2,797.2 150.2,798.8 149.9,799.8 149.2,800.8 147.8,801.8 146.2,802.8 154.2,803.2 156.5,804.2 158.2,805.3 164.3,806.9 172.3,808.3 173.9,809.3 173.3,810.3 179.3,810.3 180.3,811.7 190.4,812.9 198.4,814.3 210.5,815.7 207.5,816.7 204.4,817.7 207.3,818.7 210.5,819.7 202.4,821.3 194.4,822.3 206.4,823.3 203.0,824.3 198.4,825.3 202.4,826.9 212.5,828.4 213.9,829.4 216.5,830.4 209.0,831.4 202.4,832.4 208.5,833.4 220.5,834.8 228.5,836.4 231.7,837.4 232.6,838.4 238.6,839.4 235.6,840.4 232.6,841.4 231.7,842.4 230.5,843.4 243.6,843.5 232.6,845.0 244.6,846.4 245.9,847.4 249.6,848.4 238.6,850.0 233.4,851.0 228.5,852.0 236.6,853.4 212.5,854.6 188.4,856.0 164.3,857.7 157.4,858.6 150.2,859.5 148.6,860.8 149.2,862.1 156.2,863.5 149.2,865.1 158.2,865.7 161.5,866.6 164.3,867.5 170.3,869.1 166.3,870.7 169.6,871.9 172.3,873.1 170.2,874.1 170.3,875.1 178.3,876.1 175.6,877.1 172.3,878.1 176.2,879.4 180.3,880.8 184.8,882.0 188.4,883.2 190.0,884.2 192.9,885.2 194.4,886.2 199.0,887.2 202.4,888.2 202.3,889.2 204.4,890.2 196.4,891.6 200.4,893.2 194.4,894.8 180.3,896.2 168.3,897.6 163.2,898.6 160.3,899.6 164.7,900.6 168.3,901.6 175.4,902.6 180.3,903.6 190.4,905.3 196.4,906.9 197.8,908.1 200.4,909.3 202.3,910.3 204.4,911.3 208.7,912.3 212.5,913.3 213.0,914.3 214.5,915.3 224.5,916.3 228.2,917.3 232.6,918.3 234.1,919.3 236.6,920.3 244.6,921.3 248.3,922.3 252.6,923.3 258.7,924.9 251.6,926.3 255.7,927.3 240.6,929.0 220.5,930.4 196.4,931.8 176.3,933.4 157.2,934.8 176.3,936.4 184.6,937.4 192.4,938.4 199.9,939.7 208.5,941.0 214.2,942.2 220.5,943.4 223.7,944.6 225.5,945.8 216.5,947.4 204.4,949.0 197.3,949.9 192.4,950.8 188.5,951.8 184.4,952.9 190.4,954.5 196.0,955.5 200.4,956.5 205.0,957.8 210.5,959.1 212.6,960.3 216.1,961.5" fill="none" stroke="#111" stroke-width="2.5" stroke-linejoin="round"/>
<polyline points="330.7,152.1 313.8,153.5 324.0,154.8 320.6,156.0 335.8,157.2 342.9,158.3 346.0,159.4 339.4,160.2 335.8,161.1 327.4,161.9 307.1,163.3 309.6,164.1 306.2,165.0 313.8,166.1 320.6,167.0 327.0,167.8 335.8,168.7 351.0,169.9 339.2,171.2 340.1,172.1 335.8,172.9 333.2,174.0 335.9,175.2 334.1,176.3 329.9,177.1 330.7,178.0 336.7,178.8 337.3,179.8 335.8,180.9 322.3,181.4 304.5,182.5 315.5,183.6 307.1,184.7 315.5,185.6 314.5,186.4 318.1,187.3 321.4,188.1 322.3,189.0 320.7,189.8 324.0,190.7 321.4,191.5 318.8,192.4 323.1,193.2 315.5,194.0 316.3,194.9 312.7,195.7 313.8,196.6 307.1,197.4 312.5,198.3 312.1,199.1 305.4,200.0 302.4,200.8 307.1,201.7 305.6,202.5 298.6,203.4 293.5,204.2 291.1,205.0 296.9,205.9 292.7,206.7 300.3,207.6 296.1,208.9 303.7,210.1 300.4,211.0 299.5,211.8 307.9,212.7 308.9,213.5 302.8,214.3 304.8,215.2 310.4,216.0 313.1,216.9 313.0,217.7 307.8,218.6 305.4,219.4 313.8,220.3 313.2,221.1 308.8,222.0 318.9,222.8 309.5,223.6 307.1,224.5 318.9,225.3 308.6,226.4 295.2,227.5 313.8,228.2 319.7,229.6 314.0,230.4 313.8,231.3 321.8,232.1 324.0,232.9 307.9,233.8 313.4,234.6 323.1,235.5 318.6,236.3 308.8,237.2 322.3,237.2 316.9,238.0 315.0,238.9 309.6,239.7 313.8,241.1 307.9,242.3 311.4,243.1 318.1,243.9 310.4,245.0 320.3,246.0 324.0,247.0 315.8,248.1 312.1,249.2 320.8,250.1 325.7,250.9 327.1,252.0 334.1,253.1 346.6,254.0 354.4,254.8 330.7,255.5 318.9,256.8 307.7,257.9 300.3,258.9 313.8,260.2 315.5,261.1 310.4,261.9 330.7,262.8 320.0,263.6 315.5,264.5 329.9,265.3 313.8,266.6 329.0,267.8 325.3,268.7 318.1,269.5 329.9,270.4 312.1,271.2 327.4,272.4 311.5,273.2 301.1,274.1 317.2,275.1 317.2,276.1 312.1,277.1 322.3,278.0 313.2,278.8 311.3,279.7 325.7,280.5 322.9,281.4 313.8,282.2 329.0,283.6 319.2,284.4 313.0,285.3 327.4,286.4 323.7,287.3 312.1,288.1 320.1,289.2 330.7,290.3 315.5,291.5 322.0,292.4 324.0,293.2 315.2,294.0 313.0,294.9 328.2,295.7 320.8,296.6 310.4,297.4 306.7,298.4 307.9,299.5 306.8,300.5 300.4,301.5 301.1,302.5 313.8,303.4 308.8,304.5 324.0,305.0 330.7,306.2 338.3,307.3 339.2,308.4 340.7,309.3 347.7,310.1 332.4,311.3 346.2,312.4 352.7,313.5 352.2,314.3 358.6,315.2 357.0,316.0 339.2,316.9 313.8,318.1 315.3,319.2 322.3,320.3 328.4,321.1 329.0,322.0 334.7,322.8 345.1,323.6 330.7,324.5 336.8,325.3 335.8,326.2 322.3,327.5 310.8,328.6 307.1,329.6 315.5,330.9 316.2,331.8 312.1,332.6 318.9,332.9 309.1,333.8 305.4,334.6 305.7,335.7 300.6,336.7 302.8,337.7 313.8,338.4 327.4,339.7 336.2,340.6 339.2,341.4 338.6,342.4 346.0,343.4 359.5,344.8 367.2,345.6 367.9,346.4 347.7,347.5 337.3,348.6 330.7,349.7 322.7,350.6 310.4,351.4 334.1,352.6 326.9,353.5 325.7,354.3 331.0,355.1 334.1,356.0 318.1,357.2 322.0,358.3 330.7,359.4 329.7,360.2 325.7,361.1 327.3,361.9 331.6,362.8 327.3,363.6 320.6,364.5 313.9,365.3 313.8,366.1 313.9,367.0 311.3,367.8 319.7,369.0 314.2,369.9 312.1,370.7 311.3,371.6 306.2,372.4 306.4,373.2 313.8,374.1 324.0,375.4 335.8,376.8 333.7,377.6 329.0,378.5 333.5,379.5 342.6,380.5 348.9,381.5 346.3,382.5 353.6,383.6 330.7,384.7 340.1,385.6 342.6,386.4 332.2,387.3 329.0,388.1 320.6,389.3 321.6,390.2 318.9,391.0 310.7,392.1 307.1,393.2 312.5,394.0 313.8,394.9 327.4,395.7 325.4,396.8 330.7,397.8 337.5,398.8 351.9,399.5 332.4,400.8 343.9,401.7 347.7,402.5 337.7,403.4 330.7,404.2 347.7,405.5 339.5,406.7 328.2,407.9 347.7,408.9 338.8,410.1 333.3,411.3 347.7,412.7 356.1,414.0 373.0,414.7 398.4,415.2 425.5,415.7 436.4,416.9 415.3,417.7 423.8,419.1 401.8,419.4 415.3,420.6 384.9,421.4 361.2,422.5 344.3,423.1 330.7,424.5 326.8,425.3 317.0,426.2 313.8,427.0 327.4,428.2 316.4,429.6 332.4,430.9 330.1,431.8 322.3,432.6 340.0,433.5 333.0,434.4 330.5,435.3 321.9,436.2 318.9,437.2 335.8,437.7 330.7,438.9 321.4,440.1 332.4,441.4 326.9,442.3 330.7,443.1 324.0,443.9 311.7,445.0 320.3,445.8 337.5,446.7 346.6,447.5 334.2,448.6 327.6,449.8 336.0,450.7 337.2,451.7 347.4,452.6 345.8,453.6 354.5,454.5 347.0,455.3 332.3,456.1 334.2,457.2 345.1,458.2 348.2,459.3 335.7,460.4 327.6,461.5 338.4,462.4 346.6,463.4 337.4,464.5 335.1,465.5 327.6,466.6 335.1,467.7 345.0,468.8 346.1,469.8 342.5,470.9 343.4,472.0 358.1,472.7 368.8,473.5 386.7,474.3 406.8,475.1 433.2,475.9 457.6,476.7 484.7,477.5 514.7,478.3 539.8,479.1 562.2,479.9 483.0,480.8 429.0,481.5 527.4,482.4 545.1,483.4 567.0,484.3 521.0,484.6 508.3,485.3 559.1,485.6 511.5,486.2 549.6,486.9 498.8,487.8 533.7,488.4 502.0,489.1 457.6,490.0 413.2,491.0 395.2,491.8 375.1,492.6 396.9,493.4 425.9,494.2 319.6,495.1 349.8,496.4 341.5,497.3 327.6,498.3 324.0,499.3 325.1,500.4 321.2,501.4 323.9,502.6 330.7,503.7 327.3,504.8 319.6,505.9 335.5,506.8 325.7,507.9 322.1,509.0 310.1,510.0 318.0,510.8 333.9,511.6 331.0,512.7 320.9,513.7 318.1,514.8 328.8,515.6 337.1,516.4 330.5,517.4 328.5,518.5 321.2,519.5 326.6,520.3 335.5,521.1 332.6,522.0 321.3,522.8 316.5,523.6 325.5,524.8 332.3,525.9 321.3,527.0 318.1,528.1 319.1,529.1 313.4,530.2 313.3,531.3 352.9,532.2 344.5,533.3 329.7,534.3 319.6,535.4 334.1,536.2 343.4,537.0 335.8,537.8 339.6,538.7 332.3,539.5 341.1,540.6 356.1,541.7 353.7,542.8 345.6,543.8 343.4,544.9 344.3,545.8 379.8,546.7 362.7,547.7 342.6,548.7 361.2,550.1 348.6,550.9 342.6,551.8 357.9,552.6 367.9,553.5 358.7,554.5 356.1,555.5 370.8,556.6 381.5,557.7 371.4,558.5 364.6,559.4 362.9,560.2 354.4,561.1 342.9,561.9 339.2,562.8 367.9,563.6 382.5,564.5 389.9,565.3 361.1,566.1 339.2,567.0 374.7,567.8 370.8,569.0 356.8,570.1 352.7,571.2 368.8,572.3 381.5,573.4 367.9,574.3 359.5,575.1 369.6,576.3 356.5,577.4 339.2,578.5 357.8,579.7 366.4,580.5 377.3,581.4 351.0,582.5 334.1,583.6 331.4,584.6 326.5,585.6 346.0,586.9 339.9,587.8 337.5,588.6 330.8,589.5 320.6,590.3 322.6,591.3 330.7,592.4 340.5,593.2 342.6,594.0 336.9,594.9 335.8,595.7 347.2,596.8 351.0,597.8 354.3,598.9 365.4,600.0 357.0,600.8 340.9,601.7 343.0,602.5 349.3,603.4 340.9,604.5 329.0,605.5 344.3,606.7 347.7,607.8 354.4,608.9 362.8,609.9 367.9,611.0 372.3,612.0 379.8,613.0 389.9,614.3 395.6,615.2 391.9,616.0 398.4,616.9 374.7,617.7 383.3,618.6 384.9,619.4 327.4,619.4 347.7,620.8 341.0,621.8 339.2,622.8 320.6,624.2 313.8,625.3 329.0,626.2 327.5,627.0 316.6,627.9 315.5,628.7 337.5,629.6 354.4,630.4 346.4,631.5 335.8,632.6 352.7,633.8 351.4,634.6 359.8,635.5 357.8,636.3 346.8,637.2 342.6,638.0 353.4,638.9 357.8,639.7 346.9,640.6 342.4,641.4 332.4,642.3 336.7,643.1 347.7,643.9 352.7,645.0 360.6,645.8 364.6,646.7 378.1,647.5 398.4,648.4 374.7,649.7 388.2,650.4 356.1,651.8 332.4,652.6 346.5,653.5 352.7,654.3 337.5,655.5 325.7,656.8 319.3,657.7 317.2,658.5 334.1,659.4 329.6,660.2 320.6,661.1 335.8,661.9 324.0,663.3 327.7,664.3 339.2,665.3 330.7,666.6 346.0,667.8 343.2,668.9 334.1,670.0 338.5,671.0 346.0,672.1 342.3,672.9 335.8,673.8 345.1,675.1 357.8,676.3 347.9,677.1 340.9,678.0 349.3,678.5 337.5,679.7 336.1,680.5 327.4,681.4 339.2,682.2 330.7,683.2 329.0,684.2 325.4,685.3 318.9,686.4 335.8,687.3 329.8,688.1 330.7,689.0 342.7,689.8 346.8,690.7 335.4,691.5 329.9,692.4 334.9,693.2 335.8,694.0 329.8,694.9 329.0,695.7 340.0,695.8 331.7,696.6 320.6,697.4 328.2,698.8 313.8,700.0 311.1,701.1 310.4,702.2 324.0,702.8 337.5,703.9 362.9,705.0 373.6,706.1 376.4,707.2 340.9,708.4 384.9,709.6 388.7,710.7 398.4,711.8 408.6,712.7 413.6,713.5 433.1,714.7 403.5,715.2 381.5,716.0 375.1,716.9 376.4,717.7 366.3,717.8 364.6,719.1 351.0,719.4 351.6,720.4 347.7,721.4 352.7,722.8 326.5,723.6 346.0,724.8 347.0,725.7 355.3,726.5 342.6,727.9 330.4,728.9 311.3,729.9 330.7,730.9 344.3,732.1 323.1,732.9 335.4,733.8 351.0,734.6 361.2,735.5 367.9,736.3 318.1,737.7 354.4,738.9 357.0,739.8 365.2,740.8 367.9,741.7 328.2,742.8 361.2,743.9 375.6,745.0 362.2,745.8 354.4,746.7 346.0,747.5 334.1,748.4 339.5,749.2 349.3,750.1 344.0,750.9 335.8,751.8 338.0,752.6 347.7,753.5 344.6,754.3 337.5,755.1 340.2,756.2 347.7,757.2 335.8,758.2 335.7,759.2 326.5,760.1 327.4,761.1 333.0,761.9 334.1,762.8 344.7,763.6 362.9,764.5 354.4,765.3 340.9,766.1 348.2,767.0 363.2,767.8 370.5,768.7 352.7,770.0 359.3,770.9 367.9,771.7 355.9,772.7 339.2,773.8 346.1,774.6 357.1,775.4 364.6,776.3 353.3,777.1 350.3,778.0 340.9,778.8 346.9,779.7 357.8,780.5 351.0,781.9 367.9,783.1 408.5,784.2 381.5,785.6 361.2,786.4 355.9,787.5 344.3,788.6 336.5,789.6 336.1,790.6 329.0,791.5 322.8,792.6 324.4,793.8 318.1,794.9 321.0,795.7 330.7,796.6 338.0,797.4 342.6,798.3 334.0,799.1 330.7,800.0 340.1,800.8 346.0,801.7 349.2,802.6 359.4,803.6 361.2,804.5 347.7,805.6 339.2,806.7 348.6,807.6 352.7,808.4 335.5,809.3 324.8,810.1 340.0,811.0 347.7,811.8 366.3,812.7 341.5,813.5 321.4,814.3 337.4,815.2 347.7,816.0 357.8,816.9 373.0,817.7 337.5,819.1 352.7,819.9 362.9,820.8 337.4,821.8 318.1,822.8 331.0,823.6 339.2,824.5 351.0,825.3 367.9,826.2 359.4,827.0 346.0,827.9 371.3,828.7 354.0,829.6 344.3,830.4 351.6,831.3 352.7,832.1 338.1,832.9 330.7,833.8 346.4,834.6 354.4,835.5 337.4,836.6 324.0,837.7 373.9,838.4 344.3,839.7 352.9,840.6 356.1,841.4 360.5,842.3 376.0,843.1 380.6,843.9 361.0,844.9 344.3,845.8 381.5,845.9 372.7,846.7 361.2,847.5 367.0,848.7 378.8,849.8 385.7,850.9 342.6,852.1 361.2,853.1 348.5,854.0 339.2,854.8 329.8,856.0 318.1,857.2 321.4,858.3 330.7,859.4 340.9,860.2 344.3,861.1 336.4,861.9 335.8,862.8 341.5,863.6 344.3,864.5 330.1,865.5 322.3,866.6 340.9,867.8 338.8,868.9 330.7,870.0 325.9,871.0 324.0,872.1 333.5,872.9 335.8,873.8 337.8,874.6 347.7,875.4 362.0,876.5 373.0,877.5 352.7,878.8 346.1,879.7 349.3,880.5 344.3,881.4 361.2,882.5 351.1,883.4 346.0,884.2 358.0,885.3 362.0,886.4 349.7,887.5 344.3,888.6 354.2,889.7 361.2,890.7 353.8,891.7 351.0,892.7 346.0,893.8 335.8,894.9 326.2,895.7 320.6,896.6 319.9,897.5 314.1,898.5 313.8,899.5 329.0,899.5 335.8,900.8 351.0,900.8 343.5,901.7 328.6,902.5 318.9,903.4 352.7,904.5 367.2,905.6 376.4,906.7 365.6,907.6 359.5,908.4 358.4,909.5 355.3,910.6 356.4,911.6 364.3,912.5 364.6,913.5 372.2,914.3 384.9,915.2 398.7,916.0 410.2,916.9 386.8,917.7 371.3,918.6 327.4,919.4 381.5,920.3 421.2,921.4 411.5,922.3 395.0,923.1 411.1,924.5 395.7,925.3 388.2,926.2 377.7,927.0 364.6,927.9 334.1,929.2 327.3,930.1 324.0,930.9 321.3,931.8 316.4,932.6 317.7,933.6 325.7,934.6 340.2,935.5 351.0,936.3 343.7,937.3 339.2,938.4 356.1,939.7 366.8,940.7 373.0,941.7 360.0,942.8 354.4,943.9 352.0,945.0 342.6,946.1 331.1,947.3 323.1,948.5 335.1,949.4 344.3,950.2 338.8,951.0 340.9,951.9 362.9,952.4 360.5,953.2 352.7,954.1 360.6,954.9 374.7,955.8 379.4,956.6 381.5,957.5 377.2,958.3 378.3,959.2 372.2,960.0 364.4,960.9 361.2,961.7" fill="none" stroke="#111" stroke-width="2.4" stroke-linejoin="round"/>
<g fill="none" stroke="#111" stroke-width="2.0">
<path d="M92.6,150.8 H102.4 V963.4 H92.6 M92.6,232.1 H102.4 M92.6,313.4 H102.4 M92.6,394.6 H102.4 M92.6,475.9 H102.4 M92.6,557.2 H102.4 M92.6,638.5 H102.4 M92.6,719.8 H102.4 M92.6,801.0 H102.4 M92.6,882.3 H102.4 M96.9,191.4 H102.4 M96.9,272.7 H102.4 M96.9,354.0 H102.4 M96.9,435.3 H102.4 M96.9,516.6 H102.4 M96.9,597.8 H102.4 M96.9,679.1 H102.4 M96.9,760.4 H102.4 M96.9,841.7 H102.4 M96.9,923.0 H102.4"/>
<path d="M124.2,135.6 V144.7 H263.2 V135.6 M139.6,144.7 V140.2 M155.1,144.7 V140.2 M170.5,144.7 V135.6 M186.0,144.7 V140.2 M201.4,144.7 V140.2 M216.9,144.7 V135.6 M232.3,144.7 V140.2 M247.8,144.7 V140.2" stroke-width="1.9"/>
<path d="M329.2,976.6 V967.5 H394.6 V976.6 M361.9,967.5 V974" stroke-width="1.9"/>
<path d="M481.2,981.2 V971 H894.2 V981.2 M587.9,971 V981.2" stroke-width="1.9"/>
<path d="M616.3,971.5 C616.3,977.5 618.5,979.6 624.5,979.6 H733 C739,979.6 742.6,982 742.6,987.2 C742.6,982 746.2,979.6 752.2,979.6 H860.5 C866.5,979.6 868.7,977.5 868.7,971.5" stroke-width="1.9"/>
<path d="M133,976.8 H267.6" stroke-width="2.2"/>
<path d="M139.3,971.3 L132.2,976.8 L139.3,982.3" stroke-width="2.6" stroke-linejoin="miter"/>
<path d="M261.3,971.3 L268.4,976.8 L261.3,982.3" stroke-width="2.6" stroke-linejoin="miter"/>
</g>
<g fill="none" stroke="#111" stroke-width="1.5" stroke-linecap="round">
<path d="M463.1,173.8C461.9,174.8 458.2,177.5 456.1,179.8C454.0,182.1 452.5,185.3 450.4,187.4C448.3,189.5 446.3,191.0 443.4,192.4C440.6,193.8 435.0,195.3 433.3,195.9 M463.1,173.8C462.1,174.9 458.2,178.5 456.8,180.4C455.4,182.3 455.9,183.4 454.9,185.5C454.0,187.6 452.8,190.8 451.1,193.1C449.4,195.4 447.0,197.7 444.7,199.4C442.4,201.1 438.4,202.6 437.1,203.2 M463.1,173.8C462.5,174.8 460.2,177.7 459.3,179.8C458.4,182.0 458.6,184.3 458.0,186.7C457.4,189.1 456.6,192.1 455.5,194.3C454.4,196.5 452.6,198.7 451.1,200.1C449.6,201.5 447.4,202.2 446.6,202.6 "/>
<path d="M461.9,270.9C460.7,271.9 457.0,274.6 454.9,276.9C452.8,279.2 451.3,282.4 449.2,284.5C447.1,286.6 445.1,288.1 442.2,289.5C439.3,290.9 433.8,292.4 432.1,293.0 M461.9,270.9C460.8,272.0 457.0,275.6 455.6,277.5C454.2,279.4 454.6,280.5 453.7,282.6C452.8,284.7 451.6,287.9 449.9,290.2C448.2,292.5 445.8,294.8 443.5,296.5C441.2,298.2 437.2,299.7 435.9,300.3 M461.9,270.9C461.3,271.9 458.9,274.8 458.1,276.9C457.2,279.0 457.4,281.4 456.8,283.8C456.2,286.2 455.4,289.2 454.3,291.4C453.1,293.6 451.4,295.8 449.9,297.2C448.4,298.6 446.1,299.3 445.4,299.7 "/>
<path d="M463.7,433.5C462.9,434.2 460.5,436.0 459.1,437.5C457.7,439.0 456.7,441.1 455.3,442.5C453.9,443.9 452.6,444.8 450.7,445.8C448.8,446.7 445.1,447.7 444.0,448.1 M463.7,433.5C463.0,434.2 460.4,436.6 459.5,437.9C458.6,439.1 458.9,439.8 458.3,441.2C457.7,442.6 456.9,444.7 455.8,446.2C454.7,447.8 453.1,449.3 451.6,450.4C450.0,451.5 447.4,452.5 446.5,452.9 M463.7,433.5C463.3,434.2 461.8,436.0 461.2,437.5C460.6,438.9 460.8,440.4 460.3,442.0C459.9,443.6 459.4,445.6 458.7,447.0C457.9,448.5 456.8,449.9 455.8,450.9C454.8,451.8 453.3,452.2 452.8,452.5 "/>
<path d="M463.7,504.3C462.5,505.3 458.8,508.0 456.7,510.3C454.6,512.6 453.1,515.8 451.0,517.9C448.9,520.0 446.9,521.5 444.0,522.9C441.1,524.3 435.6,525.8 433.9,526.4 M463.7,504.3C462.6,505.4 458.8,509.0 457.4,510.9C456.0,512.9 456.4,513.9 455.5,516.0C454.6,518.1 453.4,521.3 451.7,523.6C450.0,525.9 447.6,528.2 445.3,529.9C443.0,531.6 439.0,533.1 437.7,533.7 M463.7,504.3C463.1,505.3 460.8,508.1 459.9,510.3C459.0,512.5 459.2,514.8 458.6,517.2C458.0,519.6 457.2,522.6 456.1,524.8C454.9,527.0 453.2,529.2 451.7,530.6C450.2,532.0 447.9,532.7 447.2,533.1 "/>
<path d="M462.6,662.2C461.4,663.2 457.7,665.9 455.6,668.2C453.5,670.5 452.0,673.7 449.9,675.8C447.8,677.9 445.8,679.4 442.9,680.8C440.1,682.2 434.5,683.7 432.8,684.3 M462.6,662.2C461.6,663.3 457.7,666.9 456.3,668.8C454.9,670.8 455.4,671.8 454.4,673.9C453.5,676.0 452.3,679.2 450.6,681.5C448.9,683.8 446.5,686.1 444.2,687.8C441.9,689.5 437.9,691.0 436.6,691.6 M462.6,662.2C462.0,663.2 459.7,666.1 458.8,668.2C457.9,670.4 458.1,672.7 457.5,675.1C456.9,677.5 456.1,680.5 455.0,682.7C453.9,684.9 452.1,687.1 450.6,688.5C449.1,689.9 446.9,690.6 446.1,691.0 "/>
</g>
<text x="83.4" y="156.9" text-anchor="end" font-size="19" >0</text>
<text x="83.4" y="238.2" text-anchor="end" font-size="19" >100</text>
<text x="83.4" y="319.5" text-anchor="end" font-size="19" >200</text>
<text x="83.4" y="400.7" text-anchor="end" font-size="19" >300</text>
<text x="83.4" y="482.0" text-anchor="end" font-size="19" >400</text>
<text x="83.4" y="563.3" text-anchor="end" font-size="19" >500</text>
<text x="83.4" y="644.6" text-anchor="end" font-size="19" >600</text>
<text x="83.4" y="725.9" text-anchor="end" font-size="19" >700</text>
<text x="83.4" y="807.1" text-anchor="end" font-size="19" >800</text>
<text x="83.4" y="888.4" text-anchor="end" font-size="19" >900</text>
<text x="82.8" y="970.0" text-anchor="end" font-size="19" >1,000</text>
<text transform="translate(16.1,557.5) rotate(-90)" text-anchor="middle" font-size="19.5">Age (kyr)</text>
<text x="121.8" y="37.8" font-size="26" font-weight="bold" >a</text>
<text x="193.7" y="40.9" text-anchor="middle" >LR04</text>
<text x="193.5" y="65.1" text-anchor="middle">benthic δ<tspan font-size="12.5" dy="-8.5">18</tspan><tspan dy="8.5">O</tspan></text>
<text x="193.0" y="88.5" text-anchor="middle" >(‰)</text>
<text x="124.2" y="126.9" text-anchor="middle" >5.0</text>
<text x="171.6" y="126.9" text-anchor="middle" >4.4</text>
<text x="218.6" y="126.9" text-anchor="middle" >3.8</text>
<text x="263.4" y="126.9" text-anchor="middle" >3.2</text>
<text x="112.5" y="167.8" text-anchor="middle" font-size="19.5" >2</text>
<text x="138.4" y="207.1" text-anchor="middle" font-size="19.5" >4</text>
<text x="277.4" y="244.8" text-anchor="middle" font-size="19.5" >5e</text>
<text x="114.5" y="265.5" text-anchor="middle" font-size="19.5" >6</text>
<text x="259.5" y="348.5" text-anchor="middle" font-size="19.5" >7</text>
<text x="141" y="358.5" text-anchor="middle" font-size="19.5" >8</text>
<text x="275.7" y="419.1" text-anchor="middle" font-size="19.5" >9</text>
<text x="121" y="433.5" text-anchor="middle" font-size="19.5" >10</text>
<text x="286.7" y="483.9" text-anchor="middle" font-size="19.5" >11</text>
<text x="118" y="528.5" text-anchor="middle" font-size="19.5" >12</text>
<text x="260.7" y="556.4" text-anchor="middle" font-size="19.5" >13</text>
<text x="144" y="598.8" text-anchor="middle" font-size="19.5" >14</text>
<text x="266.0" y="623.9" text-anchor="middle" font-size="19.5" >15</text>
<text x="119.5" y="692.5" text-anchor="middle" font-size="19.5" >16</text>
<text x="259.5" y="723.0" text-anchor="middle" font-size="19.5" >17</text>
<text x="131.5" y="763.5" text-anchor="middle" font-size="19.5" >18</text>
<text x="259.3" y="789.8" text-anchor="middle" font-size="19.5" >19</text>
<text x="127" y="806.2" text-anchor="middle" font-size="19.5" >20</text>
<text x="265.2" y="852.5" text-anchor="middle" font-size="19.5" >21</text>
<text x="132.5" y="866.5" text-anchor="middle" font-size="19.5" >22</text>
<text x="221.6" y="895.0" text-anchor="middle" font-size="19.5" >23</text>
<text x="141" y="905.0" text-anchor="middle" font-size="19.5" >24</text>
<text x="277.5" y="930.2" text-anchor="middle" font-size="19.5" >25</text>
<text x="139.5" y="939.2" text-anchor="middle" font-size="19.5" >26</text>
<text x="242.7" y="953.3" text-anchor="middle" font-size="19.5" >27</text>
<text x="165.5" y="1002.7" text-anchor="end" textLength="57.5" lengthAdjust="spacingAndGlyphs" >Colder</text>
<text x="222.5" y="1002.7" textLength="70" lengthAdjust="spacingAndGlyphs" >Warmer</text>
<text x="329" y="999.3" text-anchor="middle" >0.5</text>
<text x="394" y="999.3" text-anchor="middle" >1</text>
<text x="284.2" y="1034.2" font-size="27" font-weight="bold" >b</text>
<text x="311" y="1034.3" textLength="101" lengthAdjust="spacingAndGlyphs" >El′gygytgyn</text>
<text x="361.3" y="1059.6" text-anchor="middle" textLength="163.5" lengthAdjust="spacingAndGlyphs" >diatom productivity</text>
<text x="361.7" y="1083.1" text-anchor="middle" >(Si/Ti)</text>
<text x="385.5" y="183.9" >GDF</text>
<text x="385.5" y="276.4" >GDF 5</text>
<text x="385.5" y="442.9" >GDF 4</text>
<text x="385.5" y="515.0" >GDF 3</text>
<text x="385.5" y="672.9" >GDF 2</text>
<text x="560.8" y="25.0" font-size="27.5" font-weight="bold" >c</text>
<text x="585.2" y="27.6" textLength="318" lengthAdjust="spacingAndGlyphs" >Modeled burial and exposure history</text>
<text x="605.6" y="130.1" >Bur</text>
<text x="659" y="130.1" >Exp</text>
<text x="699" y="130.1" >Bur</text>
<text x="754" y="130.1" >Exp</text>
<text x="797.4" y="130.1" >Bur</text>
<text x="852" y="130.1" >Exp</text>
<g transform="translate(655.9,72.1) rotate(-22)"><text text-anchor="middle">Uummannaq</text><text x="1" y="23.5" text-anchor="middle">(71 °N)</text></g>
<g transform="translate(757.1,70.5) rotate(-22)"><text text-anchor="middle">Sisimiut</text><text x="1" y="23.5" text-anchor="middle">(67 °N)</text></g>
<g transform="translate(859.3,71.0) rotate(-22)"><text text-anchor="middle">Upernavik</text><text x="1" y="23.5" text-anchor="middle">(73 °N)</text></g>
<text x="481.2" y="1009.5" text-anchor="middle" font-size="23" >Shelf</text>
<text x="481.2" y="1036.7" text-anchor="middle" font-size="23" >edge</text>
<text x="588" y="1009.5" text-anchor="middle" font-size="23" >Outer</text>
<text x="588" y="1036.7" text-anchor="middle" font-size="23" >coast</text>
<text x="742.8" y="1009.5" text-anchor="middle" font-size="23" >Fjord</text>
<text x="742.8" y="1036.7" text-anchor="middle" font-size="23" >area</text>
<text x="894.1" y="1009.5" text-anchor="middle" font-size="23" textLength="77.3" lengthAdjust="spacingAndGlyphs" >Present</text>
<text x="894.1" y="1036.7" text-anchor="middle" font-size="23" textLength="103.6" lengthAdjust="spacingAndGlyphs" >ice margin</text>
<rect x="609.2" y="1055" width="20.4" height="19.2" fill="#D3DE8F"/>
<rect x="767" y="1054.8" width="20.4" height="19.4" fill="#6CB5E6"/>
<text x="638.3" y="1071" textLength="63" lengthAdjust="spacingAndGlyphs" >Ice free</text>
<text x="796" y="1071" textLength="79.5" lengthAdjust="spacingAndGlyphs" >Ice cover</text>
</svg>
</body></html>
